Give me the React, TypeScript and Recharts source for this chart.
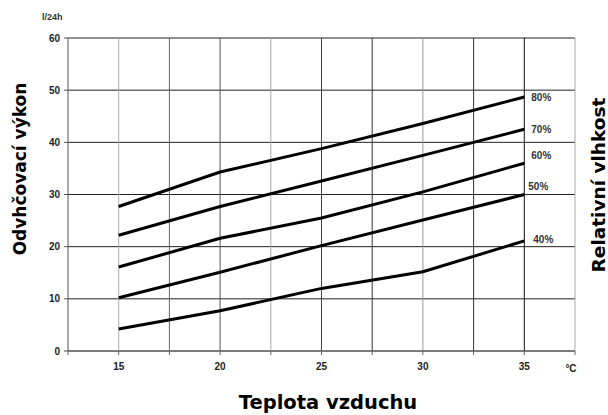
import React from "react";
import { LineChart, Line, XAxis, YAxis, CartesianGrid, ReferenceLine, LabelList } from "recharts";

const temps = [15, 20, 25, 30, 35];
const rh80 = [27.7, 34.3, 38.8, 43.6, 48.7];
const rh70 = [22.2, 27.7, 32.6, 37.5, 42.5];
const rh60 = [16.1, 21.6, 25.5, 30.5, 36.0];
const rh50 = [10.2, 15.1, 20.2, 25.1, 30.0];
const rh40 = [4.2, 7.7, 12.0, 15.2, 21.1];

const seriesNames = ["80%", "70%", "60%", "50%", "40%"];
const seriesKeys = ["rh80", "rh70", "rh60", "rh50", "rh40"];
const xTicks = [12.5, 15, 17.5, 20, 22.5, 25, 27.5, 30, 32.5, 35, 37.5];
const yTicks = [0, 10, 20, 30, 40, 50, 60];

// styling (not data)
const labelOffsets: Record<string, [number, number]> = {
  rh80: [7, 1],
  rh70: [7, 0],
  rh60: [7, -8],
  rh50: [4, -8],
  rh40: [9, -1],
};
const vLineColors: Record<string, string> = {
  "15": "#aaa",
  "17.5": "#666",
  "20": "#555",
  "22.5": "#aaa",
  "25": "#444",
  "27.5": "#333",
  "30": "#999",
  "32.5": "#333",
  "35": "#111",
  "37.5": "#aaa",
};

const data = temps.map((t, i) => ({
  t,
  rh80: rh80[i],
  rh70: rh70[i],
  rh60: rh60[i],
  rh50: rh50[i],
  rh40: rh40[i],
}));

const tickFont = { fontSize: 10, fontWeight: "bold" as const, fill: "#222", fontFamily: "Liberation Sans" };
const titleBase = { fontWeight: "bold" as const, fill: "#000", fontFamily: "DejaVu Sans" };

const makeEndLabel = (key: string, name: string) => (props: any) => {
  const { x, y, index } = props;
  if (index !== temps.length - 1) return null;
  const [dx, dy] = labelOffsets[key];
  return (
    <text
      x={x + dx}
      y={y + dy}
      dominantBaseline="central"
      fontSize={10}
      fontWeight="bold"
      fontFamily="Liberation Sans"
      fill="#333"
    >
      {name}
    </text>
  );
};

export default function App() {
  return (
    <div style={{ position: "absolute", left: 0, top: 0, width: 608, height: 415, background: "#fff" }}>
      <LineChart width={608} height={415} data={data} margin={{ top: 38, right: 33, left: 0, bottom: 0 }}>
        <CartesianGrid horizontal={true} vertical={false} stroke="#222" />
        {xTicks.slice(1).map((x) => (
          <ReferenceLine key={x} x={x} stroke={vLineColors[String(x)]} strokeWidth={1} />
        ))}
        <XAxis
          type="number"
          dataKey="t"
          domain={[12.5, 37.5]}
          ticks={xTicks}
          interval={0}
          tickFormatter={(v: number) => (v % 5 === 0 ? String(v) : "")}
          tick={tickFont}
          tickSize={4}
          tickMargin={8}
          height={64}
          stroke="#666"
          allowDataOverflow
        />
        <YAxis
          type="number"
          domain={[0, 60]}
          ticks={yTicks}
          interval={0}
          tick={tickFont}
          tickSize={4}
          tickMargin={4}
          width={68}
          stroke="#555"
        />
        {seriesKeys.map((k, i) => (
          <Line
            key={k}
            type="linear"
            dataKey={k}
            stroke="#000"
            strokeWidth={3}
            dot={false}
            isAnimationActive={false}
          >
            <LabelList dataKey={k} content={makeEndLabel(k, seriesNames[i])} />
          </Line>
        ))}
      </LineChart>
      <svg
        width={608}
        height={415}
        style={{ position: "absolute", left: 0, top: 0, pointerEvents: "none" }}
      >
        <text x={42} y={20} fontSize={9} fontWeight="bold" fontFamily="Liberation Sans" fill="#333">
          l/24h
        </text>
        <text x={571} y={372} textAnchor="middle" fontSize={10} fontWeight="bold" fontFamily="Liberation Sans" fill="#222">
          °C
        </text>
        <text
          x={20}
          y={169}
          transform="rotate(-90 20 169)"
          textAnchor="middle"
          dominantBaseline="central"
          fontSize={17}
          {...titleBase}
        >
          Odvhčovací výkon
        </text>
        <text x={328} y={402} textAnchor="middle" dominantBaseline="central" fontSize={19.5} {...titleBase}>
          Teplota vzduchu
        </text>
        <text
          x={598}
          y={185}
          transform="rotate(-90 598 185)"
          textAnchor="middle"
          dominantBaseline="central"
          fontSize={18.5}
          {...titleBase}
        >
          Relativní vlhkost
        </text>
      </svg>
    </div>
  );
}
